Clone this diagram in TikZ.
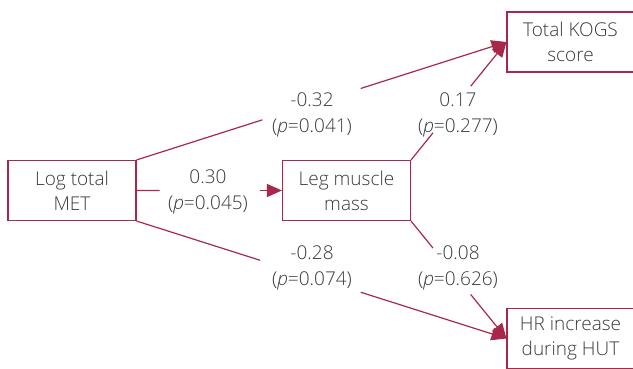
\documentclass[tikz,border=0pt]{standalone}
\usepackage{fontspec}
\setmainfont{Open Sans}[UprightFont=* Light, ItalicFont=* Light Italic]
\usetikzlibrary{arrows.meta,calc}
\definecolor{edgecol}{HTML}{A8284C}
\definecolor{txtcol}{HTML}{3A3A3A}
\tikzset{
  box/.style={draw=edgecol,line width=1.1pt,minimum width=128pt,minimum height=60pt,inner sep=0pt,align=center,text=txtcol,font=\fontsize{19}{25}\selectfont},
  lbl/.style={align=center,inner sep=0pt,text=txtcol,font=\fontsize{19}{25.5}\selectfont},
  conn/.style={draw=edgecol,line width=1.2pt},
  arr/.style={conn,-{Triangle[length=15pt,width=13pt]}}
}
\begin{document}
\begin{tikzpicture}[x=1pt,y=-1pt]
\useasboundingbox (0,0) rectangle (633,368);
\node[box] (met) at (72,190.5) {Log total\\MET};
\node[box] (leg) at (346.5,190.5) {Leg muscle\\mass};
\node[box,minimum width=127pt] (kogs) at (570.5,42) {Total KOGS\\score};
\node[box,minimum width=127pt] (hr) at (570.5,338.5) {HR increase\\during HUT};

\node[lbl] (l1) at (312,115) {-0.32\\(\textit{p}=0.041)};
\node[lbl] (l2) at (208,192) {0.30\\(\textit{p}=0.045)};
\node[lbl] (l3) at (312,268) {-0.28\\(\textit{p}=0.074)};
\node[lbl] (l4) at (458,115) {0.17\\(\textit{p}=0.277)};
\node[lbl] (l5) at (458,268) {-0.08\\(\textit{p}=0.626)};

\draw[conn] (met.north east) -- ($(met.north east)!0.34!(kogs.west)$);
\draw[arr] ($(met.north east)!0.606!(kogs.west)$) -- (kogs.west);
\draw[conn] (met.east) -- ($(met.east)!0.158!(leg.west)$);
\draw[arr] ($(met.east)!0.85!(leg.west)$) -- (leg.west);
\draw[conn] (met.south east) -- ($(met.south east)!0.334!(hr.west)$);
\draw[arr] ($(met.south east)!0.606!(hr.west)$) -- (hr.west);
\draw[conn] (leg.north east) -- ($(leg.north east)!0.23!(kogs.west)$);
\draw[arr] ($(leg.north east)!0.625!(kogs.west)$) -- (kogs.west);
\draw[conn] (leg.south east) -- ($(leg.south east)!0.23!(hr.west)$);
\draw[arr] ($(leg.south east)!0.625!(hr.west)$) -- (hr.west);
\end{tikzpicture}
\end{document}
